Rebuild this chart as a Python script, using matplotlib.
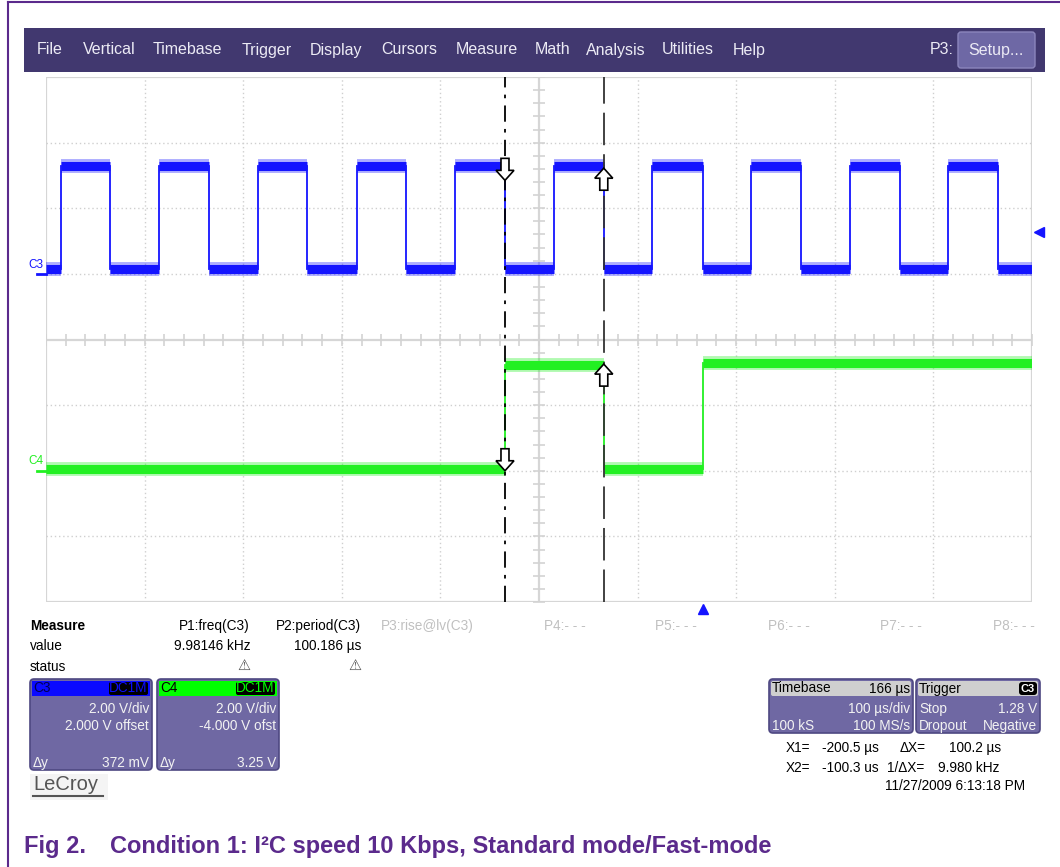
import matplotlib
matplotlib.use("Agg")
import matplotlib.pyplot as plt
import matplotlib.transforms as mtransforms
from matplotlib.patches import Rectangle, FancyBboxPatch, Polygon

W, H = 1060, 867

# ---- scope settings / data ----
menu_items = ["File", "Vertical", "Timebase", "Trigger", "Display", "Cursors",
              "Measure", "Math", "Analysis", "Utilities", "Help"]
menu_x = [37, 83, 153, 242, 310, 381, 456, 535, 586, 662, 733]

time_per_div_us = 100
time_center_us = -166
n_xdiv, n_ydiv = 10, 8

# C3 (SCL)
c3_volts_div = 2.0
c3_offset_v = 2.0
c3_low_v = 0.15
c3_high_v = 3.3
c3_rise_us = [-651, -551, -451, -351, -251, -151, -51, 49, 149, 249]
c3_fall_us = [-601, -501, -401, -301, -200.5, -100.3, 0, 100, 200, 300]

# C4 (SDA)
c4_volts_div = 2.0
c4_offset_v = -4.0
c4_edges_us = [-200.5, -100.3, 0.0]
c4_levels_v = [0.05, 3.22, 0.05, 3.28]

# cursors
cursor_x1_us = -200.5
cursor_x2_us = -100.3
c3_cursor_v = [2.85, 3.22]
c4_cursor_v = [0.0, 3.25]
trigger_level_v = 1.28

measure_names = ["P1:freq(C3)", "P2:period(C3)", "P3:rise@lv(C3)", "P4:- - -",
                 "P5:- - -", "P6:- - -", "P7:- - -", "P8:- - -"]
measure_values = ["9.98146 kHz", "100.186 µs", "", "", "", "", "", ""]
measure_right_x = [250, 361, 474, 586, 697, 810, 922, 1035]

BLUE = "#1414ff"
GREEN = "#22f022"
PURPLE_BOX = "#6f68a3"
MENU = "#41386f"
CAPTION = "#5b2a8c"

plt.rcParams["font.family"] = ["Liberation Sans", "DejaVu Sans"]

fig = plt.figure(figsize=(W / 100, H / 100), dpi=100)
fig.patch.set_facecolor("white")

# overlay in pixel coordinates for the screen furniture
ov = fig.add_axes([0, 0, 1, 1])
ov.set_xlim(0, W)
ov.set_ylim(H, 0)
ov.axis("off")

# page border
ov.plot([8, 8], [2, H], color=CAPTION, lw=1.5)
ov.plot([8, W], [2, 2], color=CAPTION, lw=1.5)

# menu bar
menu_fs = 11.5
ov.add_patch(Rectangle((24, 28), 1021, 44, fc=MENU, ec="none"))
for name, x in zip(menu_items, menu_x):
    ov.text(x, 50, name, color="#ecebf5", fontsize=menu_fs, va="center", ha="left")
ov.text(930, 50, "P3:", color="#ecebf5", fontsize=menu_fs, va="center")
ov.add_patch(FancyBboxPatch((958, 32), 77, 36, boxstyle="round,pad=0,rounding_size=3",
                            fc="#6e68a5", ec="#8c86bd", lw=1))
ov.text(996, 50, "Setup...", color="#ecebf5", fontsize=menu_fs, va="center", ha="center")

# ---- scope screen ----
ax = fig.add_axes([46 / W, 1 - 602 / H, 986 / W, 525 / H])
ax.set_facecolor("none")
x_left = time_center_us - n_xdiv / 2 * time_per_div_us
x_right = time_center_us + n_xdiv / 2 * time_per_div_us
ax.set_xlim(x_left, x_right)
ax.set_ylim(-n_ydiv / 2, n_ydiv / 2)
ax.set_xticks([])
ax.set_yticks([])
for s in ax.spines.values():
    s.set_visible(False)

grid_c = "#cfcfcf"
for k in range(n_xdiv + 1):
    xg = x_left + k * time_per_div_us
    if k in (0, n_xdiv, n_xdiv // 2):
        ax.axvline(xg, color="#d6d6d6", lw=1.6, zorder=1)
    else:
        ax.axvline(xg, color=grid_c, lw=1, ls=(0, (1, 2)), zorder=1)
for k in range(n_ydiv + 1):
    yg = -n_ydiv / 2 + k
    if k in (0, n_ydiv, n_ydiv // 2):
        ax.axhline(yg, color="#d6d6d6", lw=1.6, zorder=1)
    else:
        ax.axhline(yg, color=grid_c, lw=1, ls=(0, (1, 2)), zorder=1)

# minor ticks along centre lines
ty = [-n_ydiv / 2 + i * 0.2 for i in range(n_ydiv * 5 + 1)]
ax.plot([time_center_us] * len(ty), ty, ls="none", marker="_", ms=8, mew=1.2,
        color="#d3d3d3", zorder=1)
tx = [x_left + i * time_per_div_us / 5 for i in range(n_xdiv * 5 + 1)]
ax.plot(tx, [0] * len(tx), ls="none", marker="|", ms=8, mew=1.2,
        color="#d3d3d3", zorder=1)


def to_div(v, offset, vdiv):
    return (v + offset) / vdiv


def draw_trace(edges, levels, offset, vdiv, color):
    ys = [to_div(v, offset, vdiv) for v in levels]
    bounds = [x_left] + list(edges) + [x_right]
    # transitions
    for e, a, b in zip(edges, ys[:-1], ys[1:]):
        ax.plot([e, e], [a, b], color=color, lw=1.3, zorder=3)
    # noisy plateaus drawn as bands
    for i, y in enumerate(ys):
        ax.plot([bounds[i], bounds[i + 1]], [y, y], color=color, lw=10,
                alpha=0.35, solid_capstyle="butt", zorder=3)
        ax.plot([bounds[i], bounds[i + 1]], [y, y], color=color, lw=6.5,
                solid_capstyle="butt", zorder=3)


c3_edges = sorted(c3_rise_us + c3_fall_us)
c3_levels = [c3_low_v if i % 2 == 0 else c3_high_v for i in range(len(c3_edges) + 1)]
draw_trace(c3_edges, c3_levels, c3_offset_v, c3_volts_div, BLUE)
draw_trace(c4_edges_us, c4_levels_v, c4_offset_v, c4_volts_div, GREEN)

# cursors
ax.axvline(cursor_x1_us, color="black", lw=1.3, ls=(0, (9, 4, 2, 4)), zorder=4)
ax.axvline(cursor_x2_us, color="#333333", lw=1.3, ls=(0, (18, 5)), zorder=4)


def cursor_arrow(x, y, down):
    s = 1 if down else -1
    pts = [(0, 0), (-9, 10), (-4, 10), (-4, 22), (4, 22), (4, 10), (9, 10)]
    pts = [(px, s * py) for px, py in pts]
    tr = mtransforms.Affine2D() + mtransforms.ScaledTranslation(x, y, ax.transData)
    ax.add_patch(Polygon(pts, closed=True, fc="white", ec="black", lw=1.2,
                         transform=tr, zorder=5, clip_on=False))


cursor_arrow(cursor_x1_us, to_div(c3_cursor_v[0], c3_offset_v, c3_volts_div), True)
cursor_arrow(cursor_x2_us, to_div(c3_cursor_v[1], c3_offset_v, c3_volts_div), False)
cursor_arrow(cursor_x1_us, to_div(c4_cursor_v[0], c4_offset_v, c4_volts_div), True)
cursor_arrow(cursor_x2_us, to_div(c4_cursor_v[1], c4_offset_v, c4_volts_div), False)

# channel ground markers and labels
bt = mtransforms.blended_transform_factory(ax.transAxes, ax.transData)
for name, off, vd, col in [("C3", c3_offset_v, c3_volts_div, BLUE),
                           ("C4", c4_offset_v, c4_volts_div, GREEN)]:
    y0 = to_div(0, off, vd)
    ax.plot([-0.009, 0], [y0, y0], color=col, lw=2, transform=bt, clip_on=False)
    ax.text(-0.018, y0 + 0.05, name, color=col, fontsize=8.5, ha="left", va="bottom",
            transform=bt, clip_on=False)

# trigger level and trigger time markers
ax.plot([1.007], [to_div(trigger_level_v, c3_offset_v, c3_volts_div)], marker="<",
        ms=6.5, color=BLUE, transform=bt, clip_on=False)
bt2 = mtransforms.blended_transform_factory(ax.transData, ax.transAxes)
ax.plot([0], [-0.014], marker="^", ms=7, color=BLUE, transform=bt2, clip_on=False)

# ---- measurement panel ----
fs = 9.8
ov.text(30, 626, "Measure", fontsize=fs, fontweight="bold", va="center")
ov.text(30, 646, "value", fontsize=fs, va="center")
ov.text(30, 667, "status", fontsize=fs, va="center")
for nm, val, xr in zip(measure_names, measure_values, measure_right_x):
    col = "black" if val else "#c0c0c0"
    ov.text(xr, 626, nm, fontsize=fs, ha="right", va="center", color=col)
    if val:
        ov.text(xr, 646, val, fontsize=fs, ha="right", va="center")
        ov.text(xr - 6, 665, "⚠", fontsize=10.5, ha="center", va="center",
                color="#555555", family="DejaVu Sans", fontweight="bold")


def chan_box(x0, head_col, name, name_col, rows):
    ov.add_patch(FancyBboxPatch((x0, 679), 122, 91, boxstyle="round,pad=0,rounding_size=4",
                                fc=PURPLE_BOX, ec="#4e4882", lw=1.2))
    ov.add_patch(Rectangle((x0 + 2, 681), 118, 15, fc=head_col, ec="none"))
    ov.text(x0 + 3, 688.5, name, color=name_col, fontsize=fs, va="center")
    ov.add_patch(FancyBboxPatch((x0 + 79, 682), 39, 13, boxstyle="round,pad=0,rounding_size=2",
                                fc="black", ec="none"))
    ov.text(x0 + 98.5, 688.5, "DC1M", color=head_col, fontsize=fs, ha="center", va="center")
    ov.text(x0 + 119, 709, rows[0], color="#f2f2f2", fontsize=fs, ha="right", va="center")
    ov.text(x0 + 119, 726, rows[1], color="#f2f2f2", fontsize=fs, ha="right", va="center")
    ov.text(x0 + 3, 763, "Δy", color="#f2f2f2", fontsize=fs, va="center")
    ov.text(x0 + 119, 763, rows[2], color="#f2f2f2", fontsize=fs, ha="right", va="center")


chan_box(30, "#0a0aff", "C3", "#000050", ["2.00 V/div", "2.000 V offset", "372 mV"])
chan_box(157, "#00ff00", "C4", "black", ["2.00 V/div", "-4.000 V ofst", "3.25 V"])

# LeCroy logo
ov.add_patch(Rectangle((30, 774), 78, 26, fc="#f4f4f4", ec="none"))
ov.text(33, 785, "LeCroy", fontsize=14.5, color="#555555", va="center")
ov.plot([33, 103], [796, 796], color="#555555", lw=1.5)

# timebase / trigger boxes
for x0, wbox in [(769, 144), (916, 124)]:
    ov.add_patch(FancyBboxPatch((x0, 679), wbox, 54, boxstyle="round,pad=0,rounding_size=4",
                                fc=PURPLE_BOX, ec="#4e4882", lw=1.2))
    ov.add_patch(FancyBboxPatch((x0 + 2, 681), wbox - 4, 15,
                                boxstyle="round,pad=0,rounding_size=2", fc="#cfcfcf", ec="none"))
ov.text(772, 688.5, "Timebase", fontsize=fs, va="center")
ov.text(910, 688.5, "166 µs", fontsize=fs, va="center", ha="right")
ov.text(910, 709, "100 µs/div", fontsize=fs, va="center", ha="right", color="#f2f2f2")
ov.text(772, 726, "100 kS", fontsize=fs, va="center", color="#f2f2f2")
ov.text(910, 726, "100 MS/s", fontsize=fs, va="center", ha="right", color="#f2f2f2")
ov.text(919, 688.5, "Trigger", fontsize=fs, va="center")
ov.add_patch(FancyBboxPatch((1019, 682), 18, 13, boxstyle="round,pad=0,rounding_size=3",
                            fc="black", ec="none"))
ov.text(1028, 688.5, "C3", fontsize=8, va="center", ha="center", color="white",
        fontweight="bold")
ov.text(919, 709, "Stop", fontsize=fs, va="center", color="#f2f2f2")
ov.text(1037, 709, "1.28 V", fontsize=fs, va="center", ha="right", color="#f2f2f2")
ov.text(919, 726, "Dropout", fontsize=fs, va="center", color="#f2f2f2")
ov.text(1037, 726, "Negative", fontsize=fs, va="center", ha="right", color="#f2f2f2")

# cursor readouts
ov.text(786, 748, "X1=", fontsize=fs, va="center")
ov.text(822, 748, "-200.5 µs", fontsize=fs, va="center")
ov.text(900, 748, "ΔX=", fontsize=fs, va="center")
ov.text(1001, 748, "100.2 µs", fontsize=fs, va="center", ha="right")
ov.text(786, 768, "X2=", fontsize=fs, va="center")
ov.text(822, 768, "-100.3 us", fontsize=fs, va="center")
ov.text(887, 768, "1/ΔX=", fontsize=fs, va="center")
ov.text(938, 768, "9.980 kHz", fontsize=fs, va="center")
ov.text(1025, 786, "11/27/2009 6:13:18 PM", fontsize=fs, va="center", ha="right")

# caption
cap_fs = 17
ov.text(24, 847, "Fig 2.", fontsize=cap_fs, fontweight="bold", color=CAPTION, va="center")
ov.text(110, 847, "Condition 1: I²C speed 10 Kbps, Standard mode/Fast-mode",
        fontsize=cap_fs, fontweight="bold", color=CAPTION, va="center")

fig.savefig("out.png", dpi=100)
